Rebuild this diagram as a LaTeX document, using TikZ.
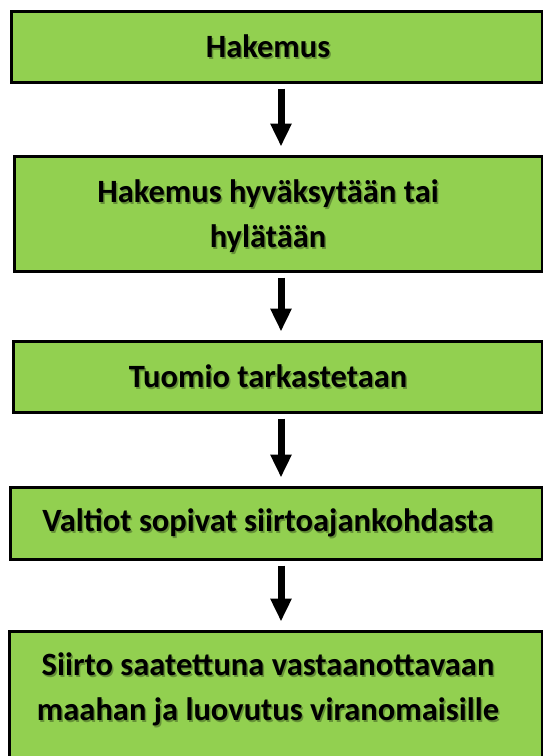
\documentclass[tikz,border=0pt]{standalone}
\usepackage{fontspec}
\setmainfont{Carlito}
\usetikzlibrary{arrows.meta}
\definecolor{boxgreen}{HTML}{92D050}
\tikzset{
  box/.style={draw=black, line width=3pt, fill=boxgreen, inner sep=0pt},
  label/.style={font=\fontsize{32.5}{45}\selectfont\bfseries, align=center, text=black, inner sep=0pt},
  shadowtext/.style={font=\fontsize{32.5}{45}\selectfont\bfseries, align=center, text=black, opacity=0.3, inner sep=0pt},
  flow/.style={line width=7pt, -{Triangle[width=20pt,length=23pt]}, shorten <=5pt, shorten >=8pt}
}
\begin{document}
\begin{tikzpicture}[x=1pt,y=-1pt]
\useasboundingbox (0,0) rectangle (543,756);
\clip (0,0) rectangle (543,756);
\node[box, minimum width=531, minimum height=71] (b1) at (276.5,46.5) {};
\node[box, minimum width=528, minimum height=115] (b2) at (278,213.5) {};
\node[box, minimum width=529, minimum height=71] (b3) at (277.5,376.5) {};
\node[box, minimum width=531.5, minimum height=72] (b4) at (276.25,523) {};
\node[box, minimum width=533, minimum height=140] (b5) at (275.5,701) {};
% soft shadows of the texts
\node[shadowtext] (s1) at (269.5,48) {Hakemus};
\node[shadowtext] (s2) at (269.5,218) {Hakemus hyväksytään tai\\hylätään};
\node[shadowtext] (s3) at (269.5,378) {Tuomio tarkastetaan};
\node[shadowtext] (s4) at (269.5,524.5) {Valtiot sopivat siirtoajankohdasta};
\node[shadowtext] (s5) at (269.5,691) {Siirto saatettuna vastaanottavaan\\maahan ja luovutus viranomaisille};
% texts
\node[label] (t1) at (268,46.5) {Hakemus};
\node[label] (t2) at (268,216.5) {Hakemus hyväksytään tai\\hylätään};
\node[label] (t3) at (268,376.5) {Tuomio tarkastetaan};
\node[label] (t4) at (268,523) {Valtiot sopivat siirtoajankohdasta};
\node[label] (t5) at (268,689.5) {Siirto saatettuna vastaanottavaan\\maahan ja luovutus viranomaisille};
% arrows
\draw[flow] (b1.south -| 281,0) -- (b2.north -| 281,0);
\draw[flow] (b2.south -| 281,0) -- (b3.north -| 281,0);
\draw[flow] (b3.south -| 281,0) -- (b4.north -| 281,0);
\draw[flow] (b4.south -| 281,0) -- (b5.north -| 281,0);
\end{tikzpicture}
\end{document}
